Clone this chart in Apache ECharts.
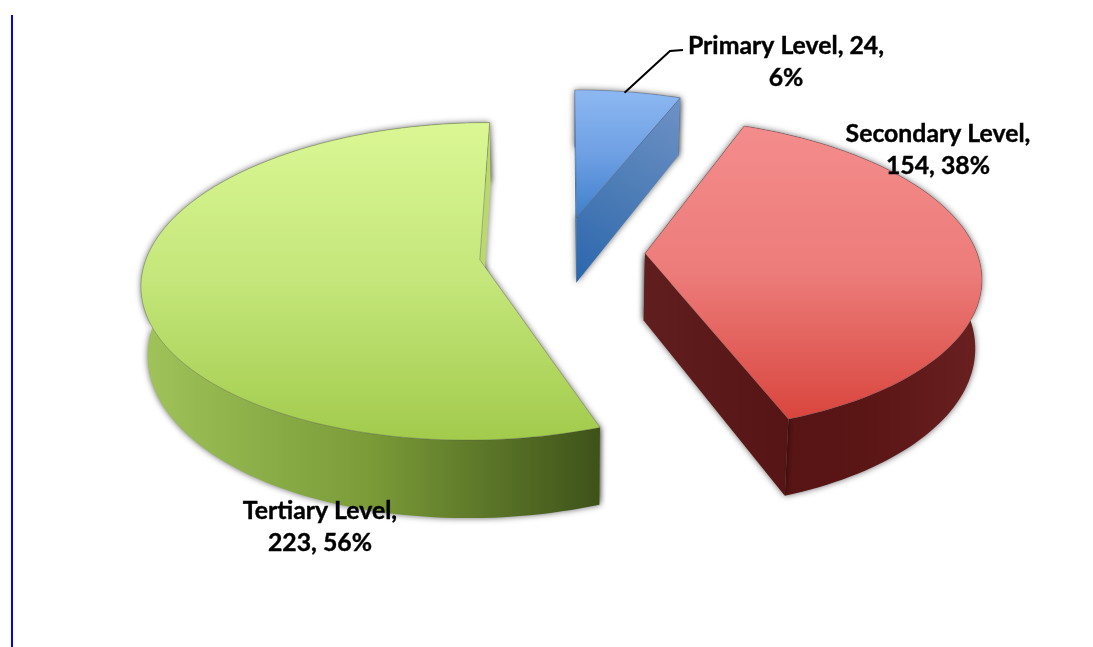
<!DOCTYPE html>
<html>
<head>
<meta charset="utf-8">
<style>html,body{margin:0;padding:0;background:#fff}#c{width:1093px;height:647px}</style>
<script src="https://cdn.jsdelivr.net/npm/echarts@6/dist/echarts.min.js"></script>
</head>
<body>
<div id="c"></div>
<script>
// ---- data ----
const categories = ['Primary Level', 'Secondary Level', 'Tertiary Level'];
const values = [24, 154, 223];
const labelBreakAfterComma = [2, 1, 1];

// ---- 3D camera of the exploded pie ----
const cam = { cx: 562, cy: 253, a: 332, b: 154, k: 0.135, depth: 67, converge: 0.016 };
const explode = [0.24, 0.25, 0.25];
const G = echarts.graphic;
const vGrad = (stops) => new G.LinearGradient(0, 0, 0, 1, stops.map((c, i) => ({ offset: i / (stops.length - 1), color: c })));
const hGrad = (stops) => new G.LinearGradient(0, 0, 1, 0, stops.map((c, i) => ({ offset: i / (stops.length - 1), color: c })));
const looks = [
  { top: vGrad(['#8DB8F2', '#6FA0E4', '#3F7FCB']),
    arc: '#5f86bd',
    cut: new G.LinearGradient(1, 0, 0, 1, [{ offset: 0, color: '#6E92C6' }, { offset: 0.5, color: '#4E7DB6' }, { offset: 1, color: '#2A66AE' }]),
    startCutBehind: false },
  { top: vGrad(['#F48C8C', '#EC7C7A', '#D9453D']),
    arc: hGrad(['#561414', '#5a1515', '#6a2020']),
    cut: hGrad(['#601e1e', '#561414']),
    startCutBehind: false },
  { top: vGrad(['#DAF794', '#C4E67A', '#A2CB4C']),
    arc: hGrad(['#A0C35A', '#7A9B38', '#3E5219']),
    cut: '#B9D870',
    startCutBehind: true }
];
const labelPos = [[786, 62], [938, 150], [320, 527]];
const leaderElbow = [[670, 51], [683, 50]];

const total = values.reduce((s, v) => s + v, 0);
const shares = values.map(v => v / total * 360);
const starts = shares.map((_, i) => shares.slice(0, i).reduce((s, v) => s + v, 0));

function project(X, Y) {
  const D = 1 + cam.k * Y;
  return [cam.cx + cam.a * X / D, cam.cy - cam.b * Y / D, D];
}
function lower(p) {
  return [p[0] + (cam.cx - p[0]) * cam.converge, p[1] + cam.depth / p[2]];
}
function labelText(i) {
  const parts = [categories[i], values[i], Math.round(values[i] / total * 100) + '%'];
  const n = labelBreakAfterComma[i];
  return parts.slice(0, n).join(', ') + ',\n' + parts.slice(n).join(', ');
}

function renderSlice(params, api) {
  const i = api.value(0);
  const s = starts[i], e = s + shares[i], m = (s + e) / 2;
  const rad = d => d * Math.PI / 180;
  const ox = explode[i] * Math.sin(rad(m)), oy = explode[i] * Math.cos(rad(m));
  const apex = project(ox, oy);
  const arc = [];
  const steps = Math.max(6, Math.ceil(shares[i] / 1.5));
  for (let t = 0; t <= steps; t++) {
    const d = rad(s + (e - s) * t / steps);
    arc.push(project(ox + Math.sin(d), oy + Math.cos(d)));
  }
  const first = arc[0], last = arc[arc.length - 1];
  const pts = a => a.map(p => [p[0], p[1]]);
  const look = looks[i];
  const shadow = { shadowBlur: 6, shadowColor: 'rgba(0,0,0,0.6)' };
  const arcWall = { type: 'polygon', shape: { points: pts(arc).concat(arc.map(lower).reverse()) },
    style: Object.assign({ fill: look.arc }, shadow) };
  const cutA = { type: 'polygon', shape: { points: pts([apex, first]).concat([lower(first), lower(apex)]) },
    style: Object.assign({ fill: look.cut }, shadow) };
  const cutB = { type: 'polygon', shape: { points: pts([apex, last]).concat([lower(last), lower(apex)]) },
    style: Object.assign({ fill: look.cut }, shadow) };
  const kids = look.startCutBehind ? [cutA, arcWall, cutB] : [arcWall, cutA, cutB];
  kids.push({ type: 'polygon', shape: { points: [[apex[0], apex[1]]].concat(pts(arc)) },
    style: { fill: look.top, stroke: 'rgba(70,70,70,0.4)', lineWidth: 0.8 } });
  if (i === 0) {
    const mid = arc[Math.floor(steps / 2)];
    kids.push({ type: 'polyline', shape: { points: [[mid[0], mid[1] + 1]].concat(leaderElbow) },
      style: { fill: null, stroke: '#000', lineWidth: 2 } });
  }
  return { type: 'group', children: kids };
}
function renderLabel(params, api) {
  const i = api.value(0);
  return { type: 'text', x: labelPos[i][0], y: labelPos[i][1], z2: 100,
    style: { text: labelText(i), fill: '#000', align: 'center', verticalAlign: 'middle',
      font: 'bold 24.8px Lato', lineHeight: 32, stroke: '#000', lineWidth: 0.4 } };
}

const chart = echarts.init(document.getElementById('c'), null, { renderer: 'canvas' });
chart.setOption({
  animation: false,
  backgroundColor: '#fff',
  graphic: [{ type: 'rect', shape: { x: 11, y: 15, width: 2, height: 632 }, style: { fill: '#0000FF' }, silent: true }],
  series: [
    { type: 'custom', coordinateSystem: 'none', silent: true, z: 2, renderItem: renderSlice,
      data: [2, 1, 0].map(i => [i, values[i]]) },
    { type: 'custom', coordinateSystem: 'none', silent: true, z: 5, renderItem: renderLabel,
      data: values.map((v, i) => [i, v]) }
  ]
});
</script>
</body>
</html>
